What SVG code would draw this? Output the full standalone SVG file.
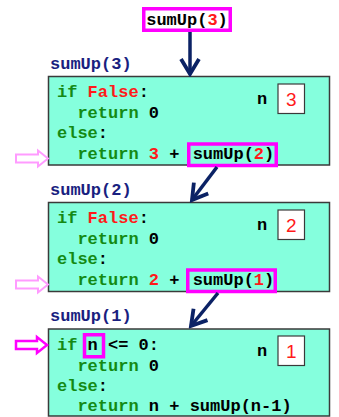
<svg xmlns="http://www.w3.org/2000/svg" width="339" height="417" viewBox="0 0 339 417">
  <style>
    .code { font-family: "Liberation Mono", "DejaVu Sans Mono", monospace; font-weight: bold; font-size: 17px; white-space: pre; fill: #000; }
    .kw { fill: #148a14; }
    .val { fill: #ff1a1a; }
    .lbl { font-family: "Liberation Mono", "DejaVu Sans Mono", monospace; font-weight: bold; font-size: 17px; fill: #1a1f80; white-space: pre; }
    .frame { fill: #85ffdd; stroke: #3a3a3a; stroke-width: 1.5; }
    .nbox { fill: #ffffff; stroke: #3a3a3a; stroke-width: 1.2; }
    .nval { font-family: "Liberation Sans", Arial, sans-serif; font-size: 19px; fill: #ff1a1a; text-anchor: middle; }
    .hl { fill: none; stroke: #ff00ff; stroke-width: 3.5; }
    .call { stroke: #0b2265; stroke-width: 3.5; fill: none; marker-end: url(#head); }
    .ret { fill: #ffffff; stroke: #ff9bff; stroke-width: 2; }
    .ret-active { fill: #ffffff; stroke: #ff00ff; stroke-width: 2.5; }
  </style>
  <defs>
    <marker id="head" viewBox="-19 -12 22 24" refX="0" refY="0" markerWidth="22" markerHeight="24" markerUnits="userSpaceOnUse" orient="auto">
      <path d="M-15,-9 L0,0 L-15,9" fill="none" stroke="#0b2265" stroke-width="3.8" stroke-linejoin="miter"/>
    </marker>
  </defs>

  <!-- initial call -->
  <g id="call-top">
    <rect x="143.75" y="8.75" width="86.5" height="21.5" fill="#ffffff" stroke="#ff00ff" stroke-width="3.5"/>
    <text class="code" x="187" y="25" text-anchor="middle">sumUp(<tspan class="val">3</tspan>)</text>
  </g>

  <!-- frame for sumUp(3) -->
  <g id="frame-3">
    <text class="lbl" x="50" y="69">sumUp(3)</text>
    <rect class="frame" x="48.5" y="76.5" width="281" height="88.5"/>
    <text class="code" x="57" y="97"><tspan class="kw">if</tspan> <tspan class="val">False</tspan>:</text>
    <text class="code" x="57" y="118">  <tspan class="kw">return</tspan> 0</text>
    <text class="code" x="57" y="138"><tspan class="kw">else</tspan>:</text>
    <text class="code" x="57" y="159">  <tspan class="kw">return</tspan> <tspan class="val">3</tspan> + <tspan dx="3">sumUp(</tspan><tspan class="val">2</tspan>)</text>
    <rect class="hl" x="188.75" y="144" width="87.5" height="21.5"/>
    <text class="code" x="262" y="104" text-anchor="middle">n</text>
    <rect class="nbox" x="278" y="84" width="26.5" height="29.5"/>
    <text class="nval" x="291.2" y="106">3</text>
  </g>

  <!-- frame for sumUp(2) -->
  <g id="frame-2">
    <text class="lbl" x="50" y="195">sumUp(2)</text>
    <rect class="frame" x="48.5" y="202.5" width="281" height="89"/>
    <text class="code" x="57" y="223"><tspan class="kw">if</tspan> <tspan class="val">False</tspan>:</text>
    <text class="code" x="57" y="244">  <tspan class="kw">return</tspan> 0</text>
    <text class="code" x="57" y="264"><tspan class="kw">else</tspan>:</text>
    <text class="code" x="57" y="285">  <tspan class="kw">return</tspan> <tspan class="val">2</tspan> + <tspan dx="3">sumUp(</tspan><tspan class="val">1</tspan>)</text>
    <rect class="hl" x="187.75" y="270" width="87.5" height="21.5"/>
    <text class="code" x="262" y="230" text-anchor="middle">n</text>
    <rect class="nbox" x="278" y="210" width="26.5" height="29.5"/>
    <text class="nval" x="291.2" y="232">2</text>
  </g>

  <!-- frame for sumUp(1) -->
  <g id="frame-1">
    <text class="lbl" x="50" y="321">sumUp(1)</text>
    <rect class="frame" x="48.5" y="329" width="281" height="87"/>
    <text class="code" x="57" y="350"><tspan class="kw">if</tspan> n &lt;= 0:</text>
    <text class="code" x="57" y="371">  <tspan class="kw">return</tspan> 0</text>
    <text class="code" x="57" y="391"><tspan class="kw">else</tspan>:</text>
    <text class="code" x="57" y="411">  <tspan class="kw">return</tspan> n + sumUp(n-1)</text>
    <rect class="hl" x="84.5" y="334.75" width="19" height="22"/>
    <text class="code" x="262" y="356" text-anchor="middle">n</text>
    <rect class="nbox" x="278" y="336" width="26.5" height="29.5"/>
    <text class="nval" x="291.2" y="358">1</text>
  </g>

  <!-- return markers beside the pending lines -->
  <g id="return-markers">
    <polygon class="ret" points="16,154.5 38,154.5 38,150.5 48,158.5 38,166.5 38,162.5 16,162.5"/>
    <polygon class="ret" points="16,280.5 38,280.5 38,276.5 48,284.5 38,292.5 38,288.5 16,288.5"/>
    <polygon class="ret-active" points="16,341 37,341 37,337 47,345 37,353 37,349 16,349"/>
  </g>

  <!-- call connectors -->
  <g id="connectors">
    <line class="call" x1="190" y1="32" x2="190" y2="74"/>
    <line class="call" x1="217" y1="167" x2="192" y2="200"/>
    <line class="call" x1="218" y1="293" x2="191" y2="326"/>
  </g>
</svg>
